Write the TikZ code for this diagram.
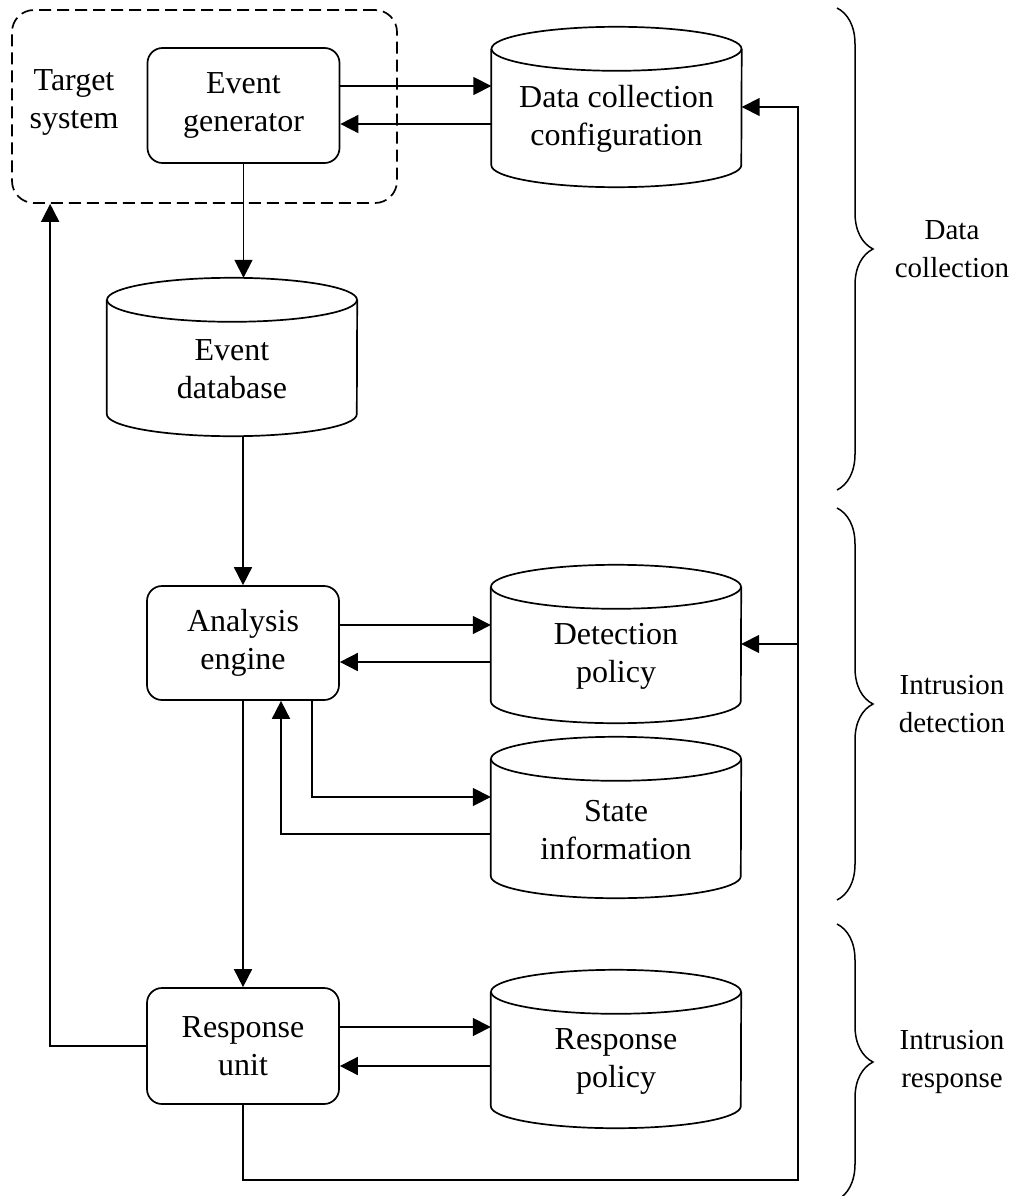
\documentclass[tikz,border=0pt]{standalone}
\usepackage{fontspec}
\setmainfont{Liberation Serif}
\usetikzlibrary{arrows.meta,decorations.pathreplacing,calc}

\newcommand\lblfont{\fontsize{32}{38}\selectfont}
\newcommand\phasefont{\fontsize{29}{38}\selectfont}
% outline of a data store (cylinder) drawn round a named node
\newcommand\drawstore[1]{%
  \draw[wire] ($(#1.north)+(0,-22)$) ellipse [x radius=125, y radius=22];
  \draw[wire] ($(#1.north west)+(0,-22)$) -- ($(#1.south west)+(0,22)$)
     arc[start angle=180, end angle=360, x radius=125, y radius=22]
     -- ($(#1.north east)+(0,-22)$);
}

\begin{document}
\begin{tikzpicture}[x=1pt,y=1pt,
  wire/.style={line width=1.7pt},
  tip/.style={-{Triangle[length=18pt,width=18pt]}},
  lbl/.style={font=\lblfont, align=center, inner sep=0pt},
  phase/.style={font=\phasefont, align=center, inner sep=0pt},
  procbox/.style={draw, line width=1.7pt, rounded corners=15pt,
    minimum width=192pt, minimum height=115pt, lbl},
  store/.style={minimum width=250pt, inner sep=0pt},
  group/.style={line width=1.5pt, decorate, decoration={brace, amplitude=36pt}},
]
\useasboundingbox (0,0) rectangle (1011,-1196);
\clip (0,0) rectangle (1011,-1196);

% target system boundary
\node[draw, line width=1.7pt, dash pattern=on 12pt off 6pt, rounded corners=22pt,
      minimum width=385pt, minimum height=193pt] (target) at (204.5,-106.5) {};
\node[lbl] (targetlbl) at (74,-102) {Target\\system};

% processing units
\node[procbox] (gen)  at (243.5,-105.5) {Event\\generator};
\node[procbox, minimum height=114pt] (ana)  at (243,-643) {Analysis\\engine};
\node[procbox, minimum height=116pt] (resp) at (243,-1046) {Response\\unit};

% data stores
\node[store, minimum height=160pt] (dcc) at (616.5,-107) {};
\node[lbl] (dcctxt) at (616.5,-119) {Data collection\\configuration};
\node[store, minimum height=158pt] (edb) at (232,-357) {};
\node[lbl] (edbtxt) at (232,-369) {Event\\database};
\node[store, minimum height=158pt] (dp) at (616,-644) {};
\node[lbl] (dptxt) at (616,-656) {Detection\\policy};
\node[store, minimum height=161pt] (si) at (616,-817.5) {};
\node[lbl] (sitxt) at (616,-830) {State\\information};
\node[store, minimum height=158pt] (rp) at (616,-1049) {};
\node[lbl] (rptxt) at (616,-1061) {Response\\policy};
\drawstore{dcc}
\drawstore{edb}
\drawstore{dp}
\drawstore{si}
\drawstore{rp}

% generator <-> collection configuration
\draw[wire,tip] ($(gen.east)+(0,19.5)$) coordinate (g1) -- (g1 -| dcc.west);
\draw[wire,tip] ($(dcc.west)+(0,-17)$) coordinate (g2) -- (g2 -| gen.east);
% generator -> event database -> analysis engine
\draw[wire,tip] (gen.south) -- (gen.south |- edb.north);
\draw[wire,tip] (ana.north |- edb.south) -- (ana.north);
% analysis engine <-> detection policy
\draw[wire,tip] ($(ana.east)+(0,18)$) coordinate (a1) -- (a1 -| dp.west);
\draw[wire,tip] ($(dp.west)+(0,-18)$) coordinate (a2) -- (a2 -| ana.east);
% analysis engine <-> state information
\draw[wire,tip] ($(ana.south)+(69,0)$) |- ($(si.west)+(0,20.5)$);
\draw[wire,tip] ($(si.west)+(0,-16.5)$) -| ($(ana.south)+(38,0)$);
% analysis engine -> response unit
\draw[wire,tip] (ana.south) -- (resp.north);
% response unit <-> response policy
\draw[wire,tip] ($(resp.east)+(0,19)$) coordinate (r1) -- (r1 -| rp.west);
\draw[wire,tip] ($(rp.west)+(0,-17)$) coordinate (r2) -- (r2 -| resp.east);
% response unit -> target system
\draw[wire,tip] (resp.west) -| ($(target.south west)+(39,0)$);
% feedback loop to the configuration stores
\coordinate (loop) at (798,-1180);
\draw[wire,tip] (resp.south) |- (loop) |- (dcc.east);
\draw[wire,tip] (loop |- dp.east) -- (dp.east);

% phase braces
\draw[group] (837,-8) -- (837,-490);
\draw[group] (837,-508) -- (837,-900);
\draw[group] (837,-924) -- (837,-1200);
\node[phase] (phase1) at (952,-249) {Data\\collection};
\node[phase] (phase2) at (952,-704) {Intrusion\\detection};
\node[phase] (phase3) at (952,-1062) {Intrusion\\response};
\end{tikzpicture}
\end{document}
